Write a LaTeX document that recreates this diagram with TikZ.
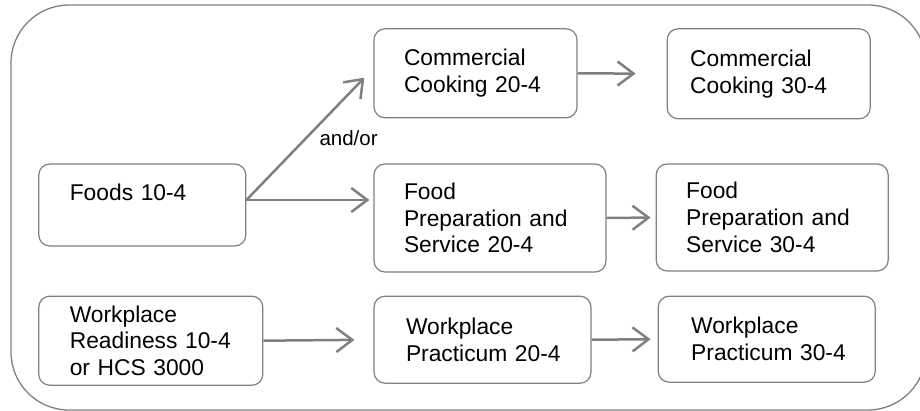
\documentclass[tikz,border=0pt]{standalone}
\usepackage{fontspec}
\setmainfont{Liberation Sans}
\usetikzlibrary{matrix,arrows.meta}
\definecolor{linegray}{RGB}{128,128,128}
\exhyphenpenalty=10000
\hyphenpenalty=10000

\begin{document}
\begin{tikzpicture}[x=1pt, y=-1pt,
		box/.style={draw=linegray, line width=1.2pt, rounded corners=11pt, align=left, anchor=north west,
			inner xsep=30pt, inner ysep=0pt, font=\fontsize{22.8}{26.8}\selectfont},
		>={Straight Barb[length=16pt, width=24pt]}]
		\useasboundingbox (0,0) rectangle (920,411);
		\draw[linegray, line width=1.3pt, rounded corners=58pt] (11,5) rectangle (926,410);
		\matrix (crs) [matrix of nodes, row sep=23pt, column sep=49pt, inner sep=0pt, nodes={box}, anchor=north west] at (38,28)
		{
			&[61pt] |[text width=143pt, minimum height=89pt]| {Commercial\\Cooking~20-4}
			& |[inner xsep=23pt, text width=157pt, minimum height=90pt, xshift=11pt]| {Commercial\\Cooking~30-4} \\[21pt]
			|[inner xsep=31pt, text width=145pt, minimum height=82pt, text depth=26pt]| {Foods~10-4}
			& |[text width=172pt, minimum height=108pt]| {Food\\Preparation~and\\Service~20-4}
			& |[text width=172pt, minimum height=107pt]| {Food\\Preparation~and\\Service~30-4} \\
			|[inner xsep=31pt, text width=162pt, minimum height=89pt]| {Workplace\\Readiness~10-4\\or~HCS~3000}
			& |[inner xsep=32pt, text width=153pt, minimum height=87pt]| {Workplace\\Practicum~20-4}
			& |[inner xsep=33pt, text width=151pt, minimum height=86pt, xshift=2pt]| {Workplace\\Practicum~30-4} \\
		};
		\coordinate (fork) at ([yshift=5pt]crs-2-1.east);
		\path[->, every edge/.append style={draw=linegray}, line width=2.5pt]
		(fork) edge[shorten >=13pt] node[auto, swap, pos=.55, inner sep=2pt, font=\fontsize{20.5}{24}\selectfont]{and/or} ([yshift=5pt]crs-1-2.west)
		edge[shorten >=4pt] (fork -| crs-2-2.west)
		(crs-1-2.east) edge[shorten >=31pt] (crs-1-3.west)
		(crs-2-2.east) edge[shorten >=5pt] (crs-2-3.west)
		(crs-3-1.east) edge[shorten >=19pt] (crs-3-2.west)
		(crs-3-2.east) edge[shorten >=7pt] (crs-3-3.west);
	\end{tikzpicture}
\end{document}
